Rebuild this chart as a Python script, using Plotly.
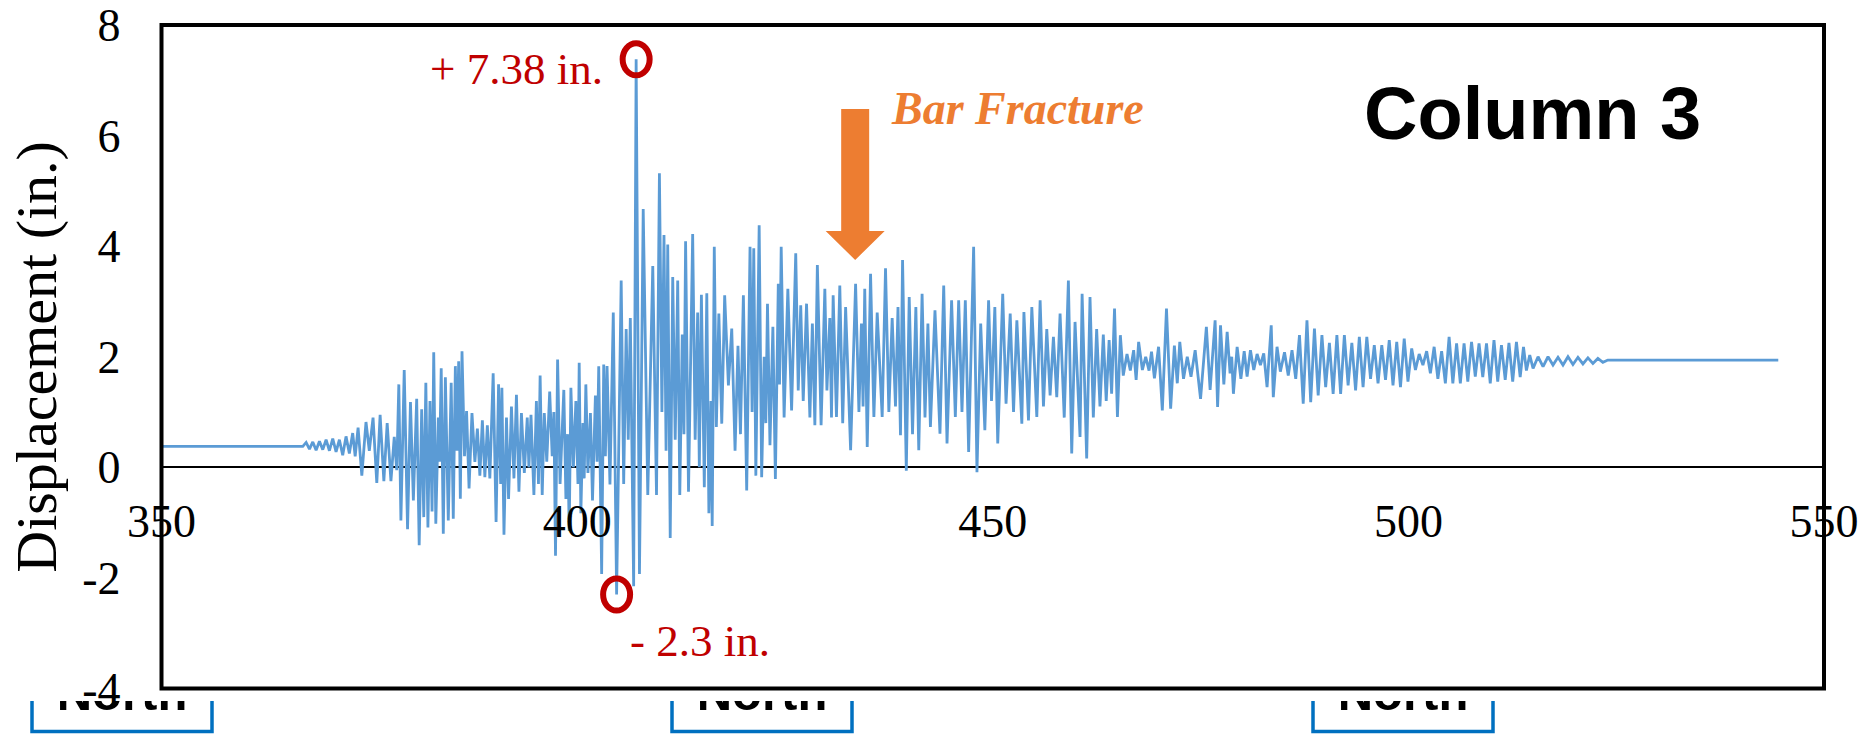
import plotly.graph_objects as go

# ---------------------------------------------------------------------------
# Column 3 displacement history (time in s, displacement in in.)
# ---------------------------------------------------------------------------
peak_time, peak_disp = 407.1, 7.38        # largest positive excursion
trough_time, trough_disp = 404.75, -2.3   # largest negative excursion
fracture_time, fracture_level = 433.45, 3.75

pre_event = [(350.0, 0.38), (367.0, 0.38)]

onset = [
    (367.4, 0.45), (367.8, 0.33), (368.2, 0.46), (368.6, 0.31), (369.0, 0.47),
    (369.4, 0.32), (369.8, 0.50), (370.2, 0.30), (370.6, 0.52), (371.0, 0.28),
    (371.4, 0.50), (371.8, 0.22), (372.2, 0.56), (372.6, 0.25), (373.0, 0.62),
    (373.3, 0.20), (373.65, 0.72), (374.1, -0.15), (374.6, 0.82), (375.0, 0.30),
    (375.45, 0.90), (375.9, -0.28), (376.3, 0.95), (376.75, -0.25), (377.15, 0.80),
]

buildup = [
    (377.6, -0.25), (378.0, 0.55), (378.3, -0.05), (378.55, 1.50), (378.8, -0.96),
    (379.2, 1.76), (379.6, -1.12), (379.95, 1.18), (380.3, -0.60), (380.7, 1.24),
    (381.0, -1.41), (381.3, 1.05), (381.55, -0.90), (381.8, 1.53), (382.05, -1.09),
    (382.3, 1.20), (382.55, -0.80), (382.75, 2.08), (383.0, -1.02), (383.3, 0.90),
    (383.45, 0.10), (383.65, 1.79), (383.9, -1.20), (384.15, 1.63), (384.5, -0.96),
    (384.85, 1.53), (385.1, -0.93), (385.35, 1.83), (385.55, 0.30), (385.75, 1.92),
    (385.95, -0.57), (386.15, 2.10), (386.45, 0.20), (386.7, 1.02), (387.0, -0.38),
    (387.35, 0.98), (387.7, 0.10), (388.0, 0.70), (388.3, -0.15), (388.6, 0.85),
    (388.9, -0.18), (389.2, 0.76), (389.5, -0.20),
]

mid_motion = [
    (389.9, 1.70), (390.25, -0.99), (390.55, 1.50), (390.8, -0.30), (390.95, 1.44),
    (391.2, -1.22), (391.5, 0.90), (391.75, -0.57), (392.1, 1.10), (392.4, -0.20),
    (392.7, 1.31), (393.0, -0.44), (393.3, 0.98), (393.65, -0.10), (394.0, 0.90),
    (394.2, 0.00), (394.45, 0.95), (394.8, -0.50), (395.1, 1.20), (395.35, -0.30),
    (395.55, 1.66), (395.8, -0.50), (396.05, 0.98), (396.35, 0.10), (396.7, 1.37),
    (397.0, 0.20), (397.2, 1.00), (397.4, -1.60), (397.65, 1.95), (397.95, -0.30),
    (398.4, 1.40), (398.65, -0.57), (398.85, 0.60), (399.05, -1.15), (399.25, 1.44),
    (399.55, 0.00), (399.85, 1.20), (400.1, -0.30), (400.25, 1.89), (400.45, -0.83),
    (400.7, 0.80), (400.85, -0.20), (401.05, 1.50), (401.3, -0.10), (401.6, 0.98),
    (401.85, -0.60), (402.2, 1.30), (402.4, 0.10), (402.6, 1.83),
]

strong_motion = [
    (402.95, -1.93), (403.2, 1.86), (403.4, 0.20), (403.6, 1.83), (403.95, -0.31),
    (404.35, 2.80), (trough_time, trough_disp), (405.3, 3.38), (405.6, -0.30),
    (405.9, 2.50), (406.15, 0.50), (406.4, 2.70), (406.8, -2.15),
    (peak_time, peak_disp), (407.5, -1.93), (407.95, 4.67), (408.5, -0.50),
    (409.1, 3.64), (409.55, -0.50), (409.9, 5.32), (410.2, 1.00), (410.45, 4.20),
    (410.7, 0.30), (410.9, 4.03), (411.2, -1.28), (411.5, 3.44), (411.8, 0.50),
    (412.1, 3.38), (412.35, -0.50), (412.65, 2.40), (412.85, 0.60), (413.05, 4.09),
    (413.4, -0.44), (413.9, 4.22), (414.2, 0.50), (414.5, 2.80), (414.7, 0.00),
    (414.95, 3.12), (415.3, -0.36), (415.6, 3.15), (415.85, -0.83), (416.1, 1.20),
    (416.25, -1.06), (416.5, 3.99), (416.75, 0.73),
]

post_fracture = [
    (417.05, 2.78), (417.4, 0.79), (417.75, 3.11), (418.2, 1.48), (418.6, 2.51),
    (419.0, 0.30), (419.35, 2.20), (419.65, 0.60), (420.0, 3.11), (420.4, -0.42),
    (420.8, 3.99), (421.05, 1.00), (421.25, 3.96), (421.5, -0.15), (421.9, 4.38),
    (422.2, -0.18), (422.5, 2.00), (422.7, 0.80), (422.9, 2.96), (423.2, 0.40),
    (423.55, 2.54), (423.85, -0.21), (424.2, 3.32), (424.35, 1.50), (424.55, 3.99),
    (424.9, 0.90), (425.35, 3.23), (425.8, 1.03), (426.3, 3.87), (426.6, 1.39),
    (426.9, 2.93), (427.2, 1.20), (427.6, 2.96), (428.0, 0.90), (428.3, 2.60),
    (428.6, 0.76), (428.9, 3.66), (429.35, 0.76), (429.8, 3.23), (430.05, 1.39),
    (430.4, 2.70), (430.6, 0.90), (430.8, 3.11), (431.2, 0.91), (431.6, 3.29),
    (431.95, 0.80), (432.3, 2.90), (432.9, 0.31), (433.5, 3.32), (433.9, 1.00),
    (434.2, 2.60), (434.4, 1.10), (434.6, 3.23), (434.9, 0.37), (435.3, 3.50),
    (435.7, 0.91), (436.1, 2.80), (436.7, 0.91), (437.1, 3.60), (437.5, 1.00),
    (437.9, 2.70), (438.3, 1.10), (438.6, 2.90), (438.9, 0.58), (439.15, 3.75),
    (439.6, -0.06), (439.95, 3.08), (440.35, 0.60), (440.75, 2.90), (441.1, 0.31),
    (441.5, 3.14), (441.85, 0.90), (442.2, 2.60), (442.5, 0.73), (443.05, 2.84),
    (443.65, 0.61), (444.1, 3.29), (444.5, 0.43), (445.05, 3.02), (445.5, 0.91),
    (445.9, 3.02), (446.3, 1.00), (446.7, 3.02), (447.1, 0.28), (447.7, 3.99),
    (448.1, -0.09), (448.55, 2.60), (449.05, 0.67), (449.5, 3.02), (449.85, 1.20),
    (450.25, 2.90), (450.6, 0.43), (451.2, 3.14), (451.6, 1.15), (452.1, 2.78),
    (452.5, 1.00), (452.9, 2.66), (453.5, 0.79), (453.75, 2.81), (454.3, 0.85),
    (454.7, 2.90), (455.3, 0.91), (455.7, 3.02), (456.1, 1.10), (456.5, 2.50),
    (456.9, 1.30), (457.3, 2.36), (457.7, 1.27), (458.1, 2.78), (458.6, 0.90),
    (459.1, 3.38), (459.5, 0.25), (459.9, 2.63), (460.5, 0.55), (460.75, 3.14),
    (461.3, 0.16), (461.7, 3.08), (462.1, 0.90), (462.5, 2.50), (462.9, 1.10),
    (463.3, 2.40), (463.65, 1.20), (464.0, 2.30), (464.3, 1.33), (464.65, 2.87),
    (465.0, 0.91), (465.35, 2.39),
]

decay = [
    (465.7, 1.66), (466.15, 2.05), (466.55, 1.75), (466.95, 2.12), (467.25, 1.58),
    (467.55, 2.27), (468.0, 1.76), (468.4, 2.00), (468.8, 1.75), (469.1, 2.09),
    (469.45, 1.61), (469.95, 2.18), (470.4, 1.03), (470.9, 2.87), (471.4, 1.06),
    (471.85, 2.20), (472.2, 1.52), (472.5, 2.27), (472.95, 1.60), (473.4, 2.00),
    (473.85, 1.64), (474.35, 2.12), (475.0, 1.24), (475.7, 2.54), (476.15, 1.40),
    (476.75, 2.66), (477.05, 1.09), (477.4, 2.57), (477.8, 1.50), (478.2, 2.45),
    (478.55, 1.70), (478.75, 2.00), (478.95, 1.33), (479.4, 2.18), (479.85, 1.60),
    (480.25, 2.10), (480.6, 1.64), (481.0, 2.12), (481.4, 1.76), (481.8, 2.05),
    (482.2, 1.85), (482.6, 2.06), (483.0, 1.45), (483.5, 2.57), (483.75, 1.27),
    (484.2, 2.18), (484.6, 1.73), (485.1, 2.08), (485.55, 1.66), (486.0, 2.12),
    (486.45, 1.60), (486.9, 2.39), (487.35, 1.15), (487.8, 2.66), (488.25, 1.18),
    (488.7, 2.51), (489.15, 1.30), (489.6, 2.39), (490.05, 1.45), (490.5, 2.25),
    (490.95, 1.33), (491.4, 2.39), (491.85, 1.33), (492.3, 2.39), (492.75, 1.48),
    (493.2, 2.25), (493.65, 1.39), (494.1, 2.36), (494.55, 1.45), (495.0, 2.36),
    (495.45, 1.60), (495.9, 2.21), (496.35, 1.52), (496.8, 2.21), (497.25, 1.58),
    (497.7, 2.30), (498.15, 1.48), (498.6, 2.27), (499.05, 1.45), (499.5, 2.33),
    (499.95, 1.55), (500.4, 2.15), (500.85, 1.76), (501.3, 2.05), (501.75, 1.85),
    (502.2, 2.10), (502.65, 1.70), (503.1, 2.18), (503.55, 1.60), (504.0, 2.10),
    (504.45, 1.52), (504.9, 2.36), (505.35, 1.52), (505.8, 2.24), (506.25, 1.52),
    (506.7, 2.24), (507.15, 1.55), (507.6, 2.27), (508.05, 1.64), (508.5, 2.24),
    (508.95, 1.63), (509.4, 2.24), (509.85, 1.52), (510.3, 2.30), (510.75, 1.55),
    (511.2, 2.21), (511.65, 1.58), (512.1, 2.25), (512.55, 1.55), (513.0, 2.27),
    (513.45, 1.63), (513.85, 2.18),
]

free_vibration = [
    (514.2, 1.75), (514.6, 2.03), (515.0, 1.79), (515.6, 2.00), (516.2, 1.82),
    (516.8, 2.00), (517.4, 1.85), (518.0, 1.99), (518.6, 1.85), (519.2, 2.00),
    (519.8, 1.86), (520.4, 1.99), (521.0, 1.87), (521.6, 1.98), (522.2, 1.88),
    (522.8, 1.97), (523.4, 1.90),
]

at_rest = [(524.0, 1.94), (544.5, 1.94)]

x_ticks = [350, 400, 450, 500, 550]
x_tick_text = ["350", "400", "450", "500", "550"]
y_ticks = [-4, -2, 0, 2, 4, 6, 8]
y_tick_text = ["-4", "-2", "0", "2", "4", "6", "8"]

north_labels = ["North", "North", "North"]

# ---------------------------------------------------------------------------
# Figure geometry (pixels)
# ---------------------------------------------------------------------------
W, H = 1875, 734
PLOT_L, PLOT_R, PLOT_T, PLOT_B = 161.5, 1824.0, 25.0, 688.5
STRIP_TOP = 701.0                       # top edge of the bottom label strip
X_RANGE, Y_RANGE = [350, 550], [-4, 8]

BLUE = "#5B9BD5"
RED = "#C00000"
ORANGE = "#ED7D31"
BOX_BLUE = "#0070C0"
SERIF = "Liberation Serif"
SANS = "Liberation Sans"

history = (pre_event + onset + buildup + mid_motion + strong_motion
           + post_fracture + decay + free_vibration + at_rest)
t_vals = [p[0] for p in history]
d_vals = [p[1] for p in history]

y_dom = [(H - PLOT_B) / H, (H - PLOT_T) / H]
x_dom = [PLOT_L / W, PLOT_R / W]
zero_frac = (0 - Y_RANGE[0]) / (Y_RANGE[1] - Y_RANGE[0])
zero_paper = y_dom[0] + (y_dom[1] - y_dom[0]) * zero_frac

fig = go.Figure()

fig.add_trace(go.Scatter(
    x=t_vals, y=d_vals, mode="lines",
    line=dict(color=BLUE, width=2.8),
    hoverinfo="skip", xaxis="x", yaxis="y",
))

# "North" direction tags along the bottom edge (partly hidden behind the chart)
box_lefts = [32, 672, 1313]
box_width = 180
fig.add_trace(go.Scatter(
    x=[b + box_width / 2 for b in box_lefts], y=[697.5] * 3,
    mode="text", text=north_labels, textposition="middle center",
    textfont=dict(family=SANS, size=49, color="black", weight="bold"),
    cliponaxis=True, hoverinfo="skip", xaxis="x2", yaxis="y2",
))
for b in box_lefts:
    fig.add_shape(
        type="path", xref="x2", yref="y2",
        path=f"M {b},690 L {b},731.5 L {b + box_width},731.5 L {b + box_width},690",
        line=dict(color=BOX_BLUE, width=3.5),
    )

# plot frame
fig.add_shape(
    type="rect", xref="x domain", yref="y domain", x0=0, x1=1, y0=0, y1=1,
    line=dict(color="black", width=4), layer="above",
)

# circles on the extreme values
for tx, dy in [(peak_time, peak_disp), (trough_time, trough_disp)]:
    fig.add_shape(
        type="circle", xref="x", yref="y",
        xsizemode="pixel", ysizemode="pixel",
        xanchor=tx, yanchor=dy, x0=-13.5, x1=13.5, y0=-16, y1=16,
        line=dict(color=RED, width=6), layer="above",
    )

# bar fracture arrow (tip at the fracture instant)
fig.add_shape(
    type="path", xref="x", yref="y", xsizemode="pixel", ysizemode="pixel",
    xanchor=fracture_time, yanchor=fracture_level,
    path="M -14,151 L 14,151 L 14,29 L 29.5,29 L 0,0 L -29.5,29 L -14,29 Z",
    fillcolor=ORANGE, line=dict(color=ORANGE, width=0), layer="above",
)

fig.add_annotation(
    x=peak_time, y=peak_disp, xref="x", yref="y",
    text=f"+ {peak_disp:.2f} in.", showarrow=False,
    xanchor="right", yanchor="middle", xshift=-31, yshift=-9.5,
    font=dict(family=SERIF, size=45, color=RED),
)
fig.add_annotation(
    x=trough_time, y=trough_disp, xref="x", yref="y",
    text=f"- {abs(trough_disp):.1f} in.", showarrow=False,
    xanchor="left", yanchor="middle", xshift=11.5, yshift=-46,
    font=dict(family=SERIF, size=45, color=RED),
)
fig.add_annotation(
    x=fracture_time, y=fracture_level, xref="x", yref="y",
    text="Bar Fracture", showarrow=False,
    xanchor="left", yanchor="middle", xshift=34, yshift=151.5,
    font=dict(family=SERIF, size=46, color=ORANGE, weight="bold", style="italic"),
)
fig.add_annotation(
    x=1532 / W, y=(H - 114) / H, xref="paper", yref="paper",
    text="Column 3", showarrow=False, xanchor="center", yanchor="middle",
    font=dict(family=SANS, size=74, color="black", weight="bold"),
)
fig.add_annotation(
    x=37 / W, y=(H - (PLOT_T + PLOT_B) / 2) / H, xref="paper", yref="paper",
    text="Displacement (in.)", showarrow=False, textangle=-90,
    xanchor="center", yanchor="middle",
    font=dict(family=SERIF, size=58, color="black"),
)

fig.update_layout(
    width=W, height=H,
    margin=dict(l=0, r=0, t=0, b=0, autoexpand=False),
    paper_bgcolor="white", plot_bgcolor="white",
    showlegend=False,
    xaxis=dict(
        domain=x_dom, range=X_RANGE, anchor="free", position=zero_paper,
        tickvals=x_ticks, ticktext=x_tick_text,
        tickfont=dict(family=SERIF, size=46, color="black"),
        showgrid=False, zeroline=False, showline=False, ticks="",
        ticklabelstandoff=23, automargin=False,
    ),
    yaxis=dict(
        domain=y_dom, range=Y_RANGE, anchor="x",
        tickvals=y_ticks, ticktext=y_tick_text,
        tickfont=dict(family=SERIF, size=46, color="black"),
        showgrid=False, showline=False, ticks="",
        zeroline=True, zerolinecolor="black", zerolinewidth=2,
        layer="above traces", ticklabelstandoff=40, automargin=False,
    ),
    xaxis2=dict(domain=[0, 1], range=[0, W], visible=False, anchor="y2",
                automargin=False),
    yaxis2=dict(domain=[0, (H - STRIP_TOP) / H], range=[H, STRIP_TOP],
                visible=False, anchor="x2", automargin=False),
)

fig.write_html("out.html", config={"displayModeBar": False})
